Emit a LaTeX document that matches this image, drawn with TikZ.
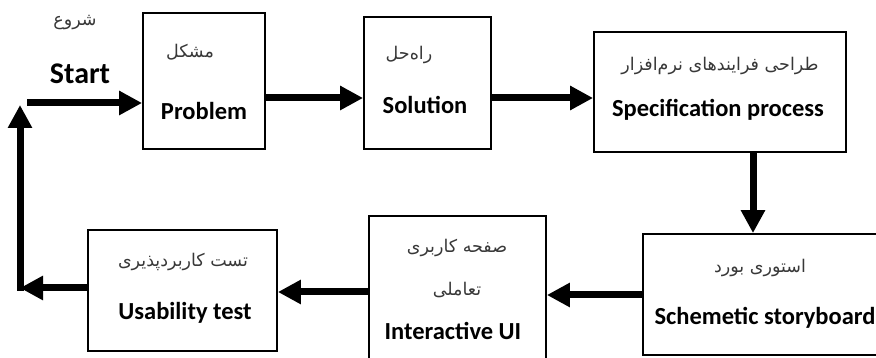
\documentclass[tikz,border=0pt]{standalone}
\usepackage{fontspec}
\setmainfont{Carlito}
\newfontfamily\fa[Script=Arabic]{DejaVu Sans}
\TeXXeTstate=1
\usetikzlibrary{arrows.meta}
\begin{document}
\begin{tikzpicture}[x=1pt,y=-1pt,
 box/.style={draw, line width=1.8pt, inner sep=0pt},
 en/.style={font=\fontsize{24.5}{28}\selectfont\bfseries, inner sep=0pt},
 fa/.style={font=\fa\fontsize{17.5}{20}\selectfont, text=black!78, inner sep=0pt},
 arr/.style={line width=7pt, -{Triangle[length=23pt,width=23pt]}}]
\useasboundingbox (0,0) rectangle (876,358);
% boxes
\node[box, minimum width=122pt, minimum height=136pt] (problem) at (204,81) {};
\node[box, minimum width=127pt, minimum height=132pt] (solution) at (427.5,83) {};
\node[box, minimum width=252pt, minimum height=120pt] (spec) at (720,92) {};
\node[box, minimum width=245pt, minimum height=121pt] (story) at (765.5,294.5) {};
\node[box, minimum width=177pt, minimum height=150pt] (ui) at (457.5,291) {};
\node[box, minimum width=189pt, minimum height=121pt] (usab) at (182.5,290.5) {};
% texts
\node[fa] (tstartfa) at (75,23) {\beginR شروع\endR};
\node[en, font=\fontsize{30}{34}\selectfont\bfseries] (tstart) at (80,74) {Start};
\node[fa] (tprobfa) at (190,52) {\beginR مشکل\endR};
\node[en] (tprob) at (204,111) {Problem};
\node[fa] (tsolfa) at (409,55) {\beginR راه‌حل\endR};
\node[en] (tsol) at (425,105) {Solution};
\node[fa] (tspecfa) at (720,66) {\beginR طراحی فرایندهای نرم‌افزار\endR};
\node[en] (tspec) at (718,110) {Specification process};
\node[fa] (tstoryfa) at (760,268) {\beginR استوری بورد\endR};
\node[en] (tstory) at (765,318) {Schemetic storyboard};
\node[fa] (tuifa1) at (457,248) {\beginR صفحه کاربری\endR};
\node[fa] (tuifa2) at (457,290) {\beginR تعاملی\endR};
\node[en] (tui) at (453,331) {Interactive UI};
\node[fa] (tusabfa) at (183,262) {\beginR تست کاربردپذیری\endR};
\node[en] (tusab) at (185,313) {Usability test};
% connectors
\coordinate (startpt) at (27,103);
\coordinate (corner) at (20,288);
\coordinate (cornerlow) at (20,291);
\coordinate (toppt) at (20,105);
\draw[arr] (startpt) -- (problem.west |- startpt);
\draw[arr] (problem.east |- 0,98) -- (solution.west |- 0,98);
\draw[arr] (solution.east |- 0,98) -- (spec.west |- 0,98);
\draw[arr] (spec.south -| 753,0) -- (story.north -| 753,0);
\draw[arr] (story.west |- 0,295) -- (ui.east |- 0,295);
\draw[arr] (ui.west |- 0,292) -- (usab.east |- 0,292);
\draw[arr] (usab.west |- corner) -- (corner);
\draw[arr] (cornerlow) -- (toppt);
\end{tikzpicture}
\end{document}
